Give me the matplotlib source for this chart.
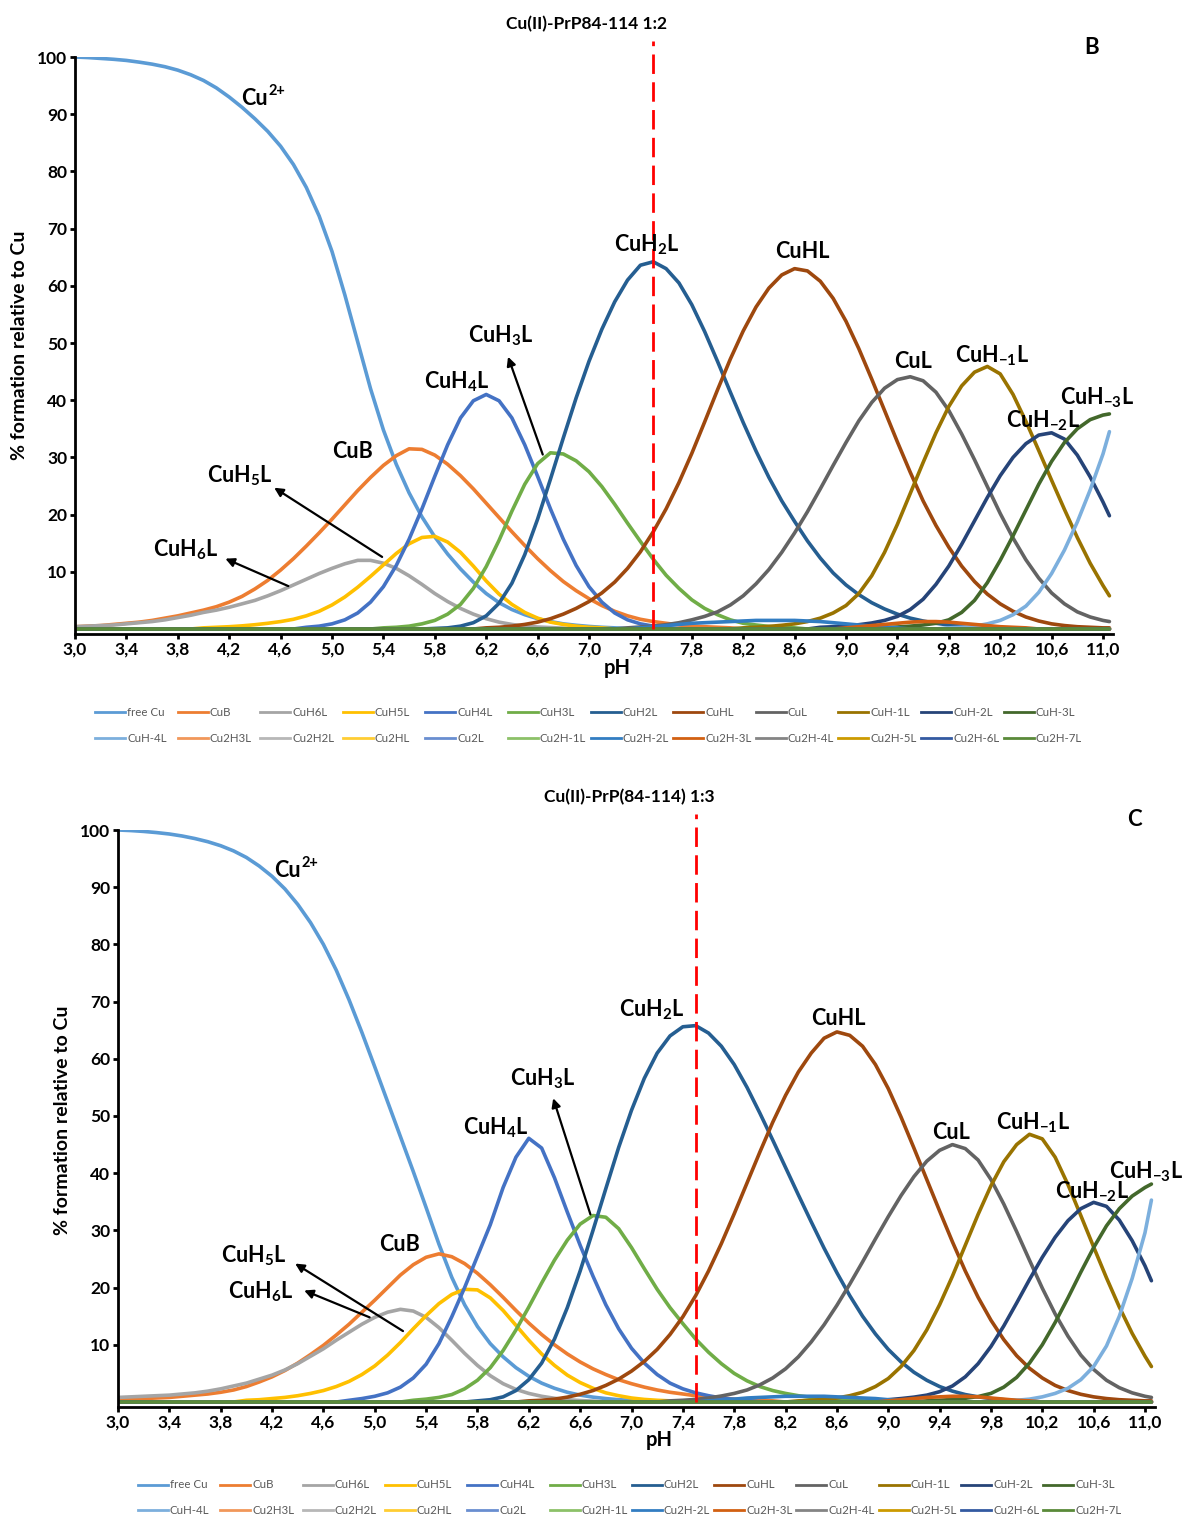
import matplotlib
matplotlib.use("Agg")
import matplotlib.pyplot as plt
from matplotlib.lines import Line2D

plt.rcParams['font.family'] = ['Lato', 'DejaVu Sans']
plt.rcParams['mathtext.fontset'] = 'custom'
plt.rcParams['mathtext.rm'] = 'Lato:bold'
plt.rcParams['mathtext.it'] = 'Lato:bold'
plt.rcParams['mathtext.bf'] = 'Lato:bold'
plt.rcParams['mathtext.sf'] = 'Lato:bold'

# pH grid shared by every species curve
PH = [round(3.0 + 0.1 * i, 1) for i in range(81)] + [11.05]


def _pad(start, vals):
    """Place values listed from `start` pH onto the full pH grid (zeros elsewhere)."""
    i0 = int(round((start - 3.0) * 10))
    out = [0.0] * len(PH)
    out[i0:i0 + len(vals)] = vals
    return out


SPECIES = ["free Cu", "CuB", "CuH6L", "CuH5L", "CuH4L", "CuH3L", "CuH2L", "CuHL",
           "CuL", "CuH-1L", "CuH-2L", "CuH-3L", "CuH-4L", "Cu2H3L", "Cu2H2L", "Cu2HL",
           "Cu2L", "Cu2H-1L", "Cu2H-2L", "Cu2H-3L", "Cu2H-4L", "Cu2H-5L", "Cu2H-6L", "Cu2H-7L"]
COLORS = ["#5B9BD5", "#ED7D31", "#A5A5A5", "#FFC000", "#4472C4", "#70AD47", "#255E91", "#9E480E",
          "#636363", "#997300", "#264478", "#43682B", "#7CAFDD", "#F1975A", "#B7B7B7", "#FFCD33",
          "#698ED0", "#8CC168", "#327DC2", "#D26012", "#848484", "#CC9A00", "#335AA1", "#5A8A39"]

ZERO = [0.0] * len(PH)

# ---------------- Cu(II)-PrP84-114 1:2 (panel B), % of total Cu ----------------
free_cu_b = _pad(3.0, [100, 99.9, 99.75, 99.6, 99.4, 99.1, 98.75, 98.3, 97.7, 96.9,
                       95.9, 94.6, 93.0, 91.2, 89.2, 87.0, 84.4, 81.2, 77.2, 72.2,
                       66.0, 58.4, 50.2, 42.0, 34.8, 28.8, 23.8, 19.6, 16.1, 13.1,
                       10.5, 8.2, 6.2, 4.6, 3.4, 2.5, 1.8, 1.3, 0.9, 0.65,
                       0.45, 0.3, 0.2, 0.1])
cub_b = _pad(3.0, [0.4, 0.5, 0.6, 0.8, 1.0, 1.2, 1.5, 1.9, 2.3, 2.8,
                   3.3, 3.9, 4.7, 5.7, 7.0, 8.5, 10.3, 12.3, 14.5, 16.8,
                   19.2, 21.7, 24.2, 26.5, 28.6, 30.3, 31.5, 31.4, 30.4, 28.8,
                   26.8, 24.5, 22.0, 19.5, 17.0, 14.6, 12.3, 10.2, 8.3, 6.7,
                   5.3, 4.1, 3.1, 2.3, 1.7, 1.3, 1.0, 0.7, 0.5, 0.4,
                   0.3, 0.2])
cuh6l_b = _pad(3.0, [0.4, 0.5, 0.6, 0.7, 0.9, 1.1, 1.3, 1.6, 2.0, 2.4,
                     2.9, 3.3, 3.8, 4.4, 5.0, 5.8, 6.7, 7.7, 8.7, 9.7,
                     10.6, 11.4, 12.0, 12.0, 11.5, 10.6, 9.3, 7.8, 6.2, 4.8,
                     3.6, 2.6, 1.8, 1.2, 0.8, 0.5, 0.35, 0.25, 0.15])
cuh5l_b = _pad(4.0, [0.2, 0.3, 0.4, 0.55, 0.75, 1.0, 1.3, 1.7, 2.3, 3.1,
                     4.2, 5.6, 7.3, 9.2, 11.2, 13.2, 14.9, 16.0, 16.2, 15.2,
                     13.4, 11.0, 8.4, 6.1, 4.3, 2.9, 1.9, 1.2, 0.8, 0.5,
                     0.3, 0.2])
cuh4l_b = _pad(4.8, [0.3, 0.5, 0.9, 1.6, 2.8, 4.7, 7.4, 11.1, 15.7, 21.0,
                     26.7, 32.2, 36.9, 39.9, 41.0, 39.9, 36.9, 32.2, 26.7, 21.0,
                     15.7, 11.1, 7.4, 4.7, 2.8, 1.6, 0.9, 0.5, 0.3])
cuh3l_b = _pad(5.4, [0.2, 0.3, 0.5, 0.9, 1.5, 2.6, 4.3, 7.1, 10.9, 15.5,
                     20.6, 25.3, 28.9, 30.8, 30.6, 29.4, 27.5, 24.9, 21.8, 18.5,
                     15.3, 12.2, 9.4, 7.1, 5.1, 3.6, 2.5, 1.6, 1.0, 0.7,
                     0.45, 0.3, 0.2])
cuh2l_b = _pad(5.8, [0.1, 0.2, 0.5, 1.1, 2.3, 4.5, 8.0, 13.0, 19.2, 26.2,
                     33.4, 40.4, 46.8, 52.4, 57.2, 61.0, 63.6, 64.2, 63.0, 60.5,
                     56.7, 52.0, 46.8, 41.4, 36.1, 31.1, 26.5, 22.4, 18.8, 15.4,
                     12.4, 9.8, 7.7, 6.0, 4.6, 3.5, 2.6, 1.9, 1.4, 1.0,
                     0.7, 0.5, 0.35, 0.25, 0.15])
cuhl_b = _pad(6.2, [0.2, 0.3, 0.5, 0.8, 1.2, 1.8, 2.6, 3.6, 4.8, 6.3,
                    8.2, 10.6, 13.5, 17.0, 21.0, 25.6, 30.7, 36.2, 41.8, 47.2,
                    52.1, 56.3, 59.6, 61.9, 63.0, 62.6, 60.8, 57.8, 53.8, 49.0,
                    43.7, 38.2, 32.7, 27.4, 22.4, 18.1, 14.3, 11.0, 8.3, 6.1,
                    4.4, 3.1, 2.1, 1.4, 0.9, 0.6, 0.4, 0.3, 0.2, 0.2])
cul_b = _pad(7.3, [0.2, 0.35, 0.5, 0.75, 1.1, 1.6, 2.2, 3.0, 4.2, 5.8,
                   7.9, 10.4, 13.4, 16.8, 20.5, 24.5, 28.6, 32.6, 36.4, 39.6,
                   42.1, 43.6, 44.1, 43.4, 41.4, 38.2, 34.1, 29.6, 24.9, 20.2,
                   15.9, 12.1, 8.9, 6.3, 4.4, 3.0, 2.1, 1.5, 1.3])
cuhm1l_b = _pad(8.2, [0.2, 0.3, 0.45, 0.65, 0.9, 1.3, 1.9, 2.8, 4.1, 6.2,
                      9.3, 13.4, 18.3, 23.7, 29.1, 34.3, 38.9, 42.5, 44.9, 45.9,
                      44.6, 41.0, 36.3, 31.2, 26.0, 20.9, 16.0, 11.5, 7.6, 5.8])
cuhm2l_b = _pad(8.8, [0.3, 0.4, 0.55, 0.75, 1.05, 1.5, 2.2, 3.4, 5.2, 7.8,
                      11.0, 14.8, 18.9, 23.0, 26.8, 30.0, 32.4, 33.9, 34.3, 33.2,
                      30.4, 26.6, 22.2, 19.8])
cuhm3l_b = _pad(9.2, [0.2, 0.25, 0.35, 0.5, 0.7, 1.0, 1.6, 2.9, 5.0, 8.1,
                      12.0, 16.3, 20.8, 25.3, 29.3, 32.6, 35.0, 36.6, 37.4, 37.6])
cuhm4l_b = _pad(9.8, [0.2, 0.3, 0.5, 0.9, 1.5, 2.5, 4.0, 6.4, 9.7, 13.8,
                      18.7, 24.3, 30.6, 34.5])
cu2hm2l_b = _pad(7.4, [0.2, 0.4, 0.6, 0.8, 1.0, 1.1, 1.2, 1.3, 1.4, 1.5,
                       1.5, 1.5, 1.5, 1.4, 1.3, 1.1, 0.9, 0.7, 0.5, 0.3, 0.2])
cu2hm3l_b = _pad(9.0, [0.2, 0.4, 0.6, 0.8, 1.0, 1.2, 1.3, 1.3, 1.2, 1.0,
                       0.8, 0.6, 0.4, 0.3, 0.2])

# ---------------- Cu(II)-PrP(84-114) 1:3 (panel C), % of total Cu ----------------
free_cu_c = _pad(3.0, [100, 99.9, 99.75, 99.55, 99.3, 98.95, 98.5, 97.95, 97.25, 96.35,
                       95.2, 93.7, 91.9, 89.7, 87.0, 83.8, 80.0, 75.5, 70.3, 64.6,
                       58.6, 52.5, 46.4, 40.3, 34.0, 27.6, 21.8, 17.0, 13.2, 10.2,
                       7.9, 6.0, 4.5, 3.3, 2.4, 1.7, 1.2, 0.85, 0.6, 0.4,
                       0.3, 0.2, 0.1])
cub_c = _pad(3.0, [0.4, 0.5, 0.6, 0.7, 0.8, 1.0, 1.2, 1.4, 1.7, 2.1,
                   2.7, 3.5, 4.4, 5.5, 6.8, 8.3, 9.9, 11.7, 13.6, 15.7,
                   17.8, 20.0, 22.2, 24.0, 25.3, 25.9, 25.4, 24.2, 22.5, 20.5,
                   18.3, 16.0, 13.8, 11.8, 10.0, 8.4, 7.0, 5.8, 4.8, 3.9,
                   3.2, 2.6, 2.1, 1.7, 1.4, 1.1, 0.9, 0.7, 0.5, 0.4,
                   0.3, 0.2])
cuh6l_c = _pad(3.0, [0.8, 0.9, 1.0, 1.1, 1.2, 1.4, 1.6, 1.9, 2.3, 2.8,
                     3.3, 4.0, 4.7, 5.6, 6.7, 8.0, 9.3, 10.8, 12.2, 13.6,
                     14.8, 15.7, 16.2, 15.9, 14.8, 13.0, 10.8, 8.5, 6.4, 4.6,
                     3.2, 2.2, 1.5, 1.0, 0.65, 0.4, 0.25, 0.15])
cuh5l_c = _pad(4.0, [0.3, 0.4, 0.6, 0.8, 1.1, 1.5, 2.0, 2.7, 3.6, 4.8,
                     6.3, 8.2, 10.4, 12.8, 15.1, 17.2, 18.8, 19.7, 19.6, 18.2,
                     16.0, 13.4, 10.8, 8.4, 6.4, 4.7, 3.4, 2.4, 1.6, 1.1,
                     0.7, 0.45, 0.3, 0.2])
cuh4l_c = _pad(4.8, [0.3, 0.6, 1.0, 1.6, 2.6, 4.2, 6.6, 10.2, 14.9, 20.0,
                     25.5, 31.0, 37.5, 42.8, 46.1, 44.4, 39.2, 33.2, 27.4, 22.0,
                     17.0, 12.8, 9.4, 6.8, 4.8, 3.3, 2.3, 1.6, 1.1, 0.7,
                     0.45, 0.3])
cuh3l_c = _pad(5.3, [0.3, 0.5, 0.8, 1.3, 2.3, 3.8, 6.0, 9.0, 12.6, 16.6,
                     20.8, 24.8, 28.3, 31.1, 32.6, 32.3, 30.3, 27.0, 23.3, 19.7,
                     16.5, 13.7, 11.0, 8.7, 6.7, 5.0, 3.7, 2.7, 2.0, 1.5,
                     1.1, 0.8, 0.5, 0.4, 0.3, 0.2])
cuh2l_c = _pad(5.8, [0.2, 0.4, 0.9, 2.0, 3.9, 6.8, 11.0, 16.5, 22.9, 30.0,
                     37.3, 44.5, 51.0, 56.6, 61.0, 64.0, 65.6, 65.8, 64.5, 62.2,
                     59.0, 55.0, 50.5, 45.8, 41.0, 36.2, 31.5, 26.9, 22.6, 18.6,
                     15.0, 11.9, 9.2, 7.0, 5.2, 3.8, 2.7, 1.9, 1.3, 0.9,
                     0.6, 0.4, 0.25, 0.15])
cuhl_c = _pad(6.2, [0.2, 0.3, 0.5, 0.85, 1.35, 2.0, 2.9, 4.0, 5.4, 7.1,
                    9.2, 11.8, 14.9, 18.6, 22.9, 27.7, 32.9, 38.3, 43.7, 48.9,
                    53.6, 57.7, 61.0, 63.6, 64.7, 64.1, 62.2, 59.0, 54.8, 49.8,
                    44.4, 38.9, 33.4, 28.0, 22.9, 18.3, 14.3, 10.9, 8.1, 5.9,
                    4.2, 2.9, 2.0, 1.35, 0.9, 0.6, 0.4, 0.3, 0.2, 0.2])
cul_c = _pad(7.3, [0.2, 0.3, 0.45, 0.7, 1.05, 1.5, 2.1, 3.0, 4.2, 5.8,
                   7.9, 10.5, 13.5, 16.9, 20.6, 24.5, 28.5, 32.4, 36.1, 39.4,
                   42.1, 44.0, 45.0, 44.3, 42.3, 38.9, 34.6, 29.8, 24.8, 19.9,
                   15.4, 11.5, 8.2, 5.7, 3.8, 2.5, 1.6, 1.0, 0.8])
cuhm1l_c = _pad(8.3, [0.2, 0.3, 0.45, 0.7, 1.1, 1.7, 2.7, 4.1, 6.2, 9.0,
                      12.6, 17.0, 22.0, 27.4, 32.8, 37.8, 42.0, 45.0, 46.8, 46.0,
                      42.8, 38.0, 32.6, 27.1, 21.7, 16.6, 12.0, 8.0, 6.2])
cuhm2l_c = _pad(9.0, [0.4, 0.6, 0.85, 1.2, 1.8, 2.8, 4.4, 6.7, 9.7, 13.3,
                      17.3, 21.4, 25.3, 28.8, 31.7, 33.8, 34.9, 34.2, 31.8, 28.2,
                      23.8, 21.2])
cuhm3l_c = _pad(9.3, [0.2, 0.3, 0.45, 0.65, 0.95, 1.5, 2.6, 4.3, 6.8, 10.0,
                      13.9, 18.2, 22.7, 27.0, 30.8, 33.8, 36.0, 37.5, 38.1])
cuhm4l_c = _pad(9.9, [0.2, 0.3, 0.5, 0.9, 1.5, 2.4, 3.9, 6.2, 9.8, 15.0,
                      21.6, 29.6, 35.3])
cu2hm2l_c = _pad(7.6, [0.2, 0.3, 0.5, 0.7, 0.8, 0.9, 1.0, 1.0, 1.0, 1.0,
                       0.9, 0.8, 0.7, 0.6, 0.4, 0.3, 0.2])
cu2hm3l_c = _pad(9.0, [0.2, 0.4, 0.6, 0.8, 0.9, 1.0, 1.0, 0.9, 0.7, 0.5,
                       0.3, 0.2])

SERIES_B = [free_cu_b, cub_b, cuh6l_b, cuh5l_b, cuh4l_b, cuh3l_b, cuh2l_b, cuhl_b,
            cul_b, cuhm1l_b, cuhm2l_b, cuhm3l_b, cuhm4l_b, ZERO, ZERO, ZERO,
            ZERO, ZERO, cu2hm2l_b, cu2hm3l_b, ZERO, ZERO, ZERO, ZERO]
SERIES_C = [free_cu_c, cub_c, cuh6l_c, cuh5l_c, cuh4l_c, cuh3l_c, cuh2l_c, cuhl_c,
            cul_c, cuhm1l_c, cuhm2l_c, cuhm3l_c, cuhm4l_c, ZERO, ZERO, ZERO,
            ZERO, ZERO, cu2hm2l_c, cu2hm3l_c, ZERO, ZERO, ZERO, ZERO]

X_TICKS = [round(3.0 + 0.4 * i, 1) for i in range(21)]
Y_TICKS = [10, 20, 30, 40, 50, 60, 70, 80, 90, 100]
PH_MARK = 7.5

# in-plot species labels: (text, pH, %)
LABELS_B = [("CuB", 5.16, 31.0), (r"CuH$_5$L", 4.28, 26.8),
            (r"CuH$_6$L", 3.86, 13.8), (r"CuH$_4$L", 5.97, 43.3), (r"CuH$_3$L", 6.31, 51.3),
            (r"CuH$_2$L", 7.45, 67.1), ("CuHL", 8.66, 66.0), ("CuL", 9.52, 46.8),
            (r"CuH$_{-1}$L", 10.14, 47.8), (r"CuH$_{-2}$L", 10.53, 36.4),
            (r"CuH$_{-3}$L", 10.95, 40.5)]
LABELS_C = [("CuB", 5.19, 27.6), (r"CuH$_5$L", 4.06, 25.5),
            (r"CuH$_6$L", 4.11, 19.2), (r"CuH$_4$L", 5.94, 47.9), (r"CuH$_3$L", 6.31, 56.5),
            (r"CuH$_2$L", 7.16, 68.5), ("CuHL", 8.61, 67.1), ("CuL", 9.49, 47.2),
            (r"CuH$_{-1}$L", 10.13, 48.8), (r"CuH$_{-2}$L", 10.59, 36.7),
            (r"CuH$_{-3}$L", 11.01, 40.2)]
# free-copper label position (pH, %)
CU_ION_B = (4.40, 92.8)
CU_ION_C = (4.32, 93.0)
# pointer arrows: (tail pH, tail %, head pH, head %)
ARROWS_B = [(6.64, 30.5, 6.37, 47.6), (5.39, 12.6, 4.55, 24.7), (4.66, 7.5, 4.17, 12.3)]
ARROWS_C = [(6.68, 32.8, 6.39, 53.1), (5.22, 12.4, 4.38, 24.2), (4.96, 14.8, 4.45, 19.5)]

W, H = 1183, 1518
fig = plt.figure(figsize=(W / 100, H / 100), dpi=100)


def fx(px):
    return px / W


def fy(py):
    return 1 - py / H


def panel(x0, x11, y100, y0, series, labels, cu_ion, arrows, title, title_xy, letter,
          letter_xy, ylab_xy, xlab_xy, leg_x0, leg_step, leg_y):
    ppu_x = (x11 - x0) / 8.0
    ppu_y = (y0 - y100) / 100.0
    xmin, xmax, ymin, ymax = 3.0, 11.08, -0.8, 100.0
    left = x0
    right = x0 + (xmax - xmin) * ppu_x
    top = y100
    bottom = y0 - ymin * ppu_y
    ax = fig.add_axes([fx(left), fy(bottom), fx(right - left), (bottom - top) / H])
    ax.set_xlim(xmin, xmax)
    ax.set_ylim(ymin, ymax)
    for name, col, vals in zip(SPECIES, COLORS, series):
        ax.plot(PH, vals, color=col, lw=2.6, solid_capstyle='round', solid_joinstyle='round',
                label=name, zorder=2)
    ax.plot([PH_MARK, PH_MARK], [0, 102.8], color='#FF0000', lw=2.0,
            dashes=(7, 3), clip_on=False, zorder=3)
    for s in ('top', 'right'):
        ax.spines[s].set_visible(False)
    for s in ('left', 'bottom'):
        ax.spines[s].set_linewidth(2.0)
        ax.spines[s].set_color('black')
    ax.set_xticks(X_TICKS)
    ax.set_xticklabels([f"{v:.1f}".replace('.', ',') for v in X_TICKS])
    ax.set_yticks(Y_TICKS)
    ax.set_yticklabels([str(v) for v in Y_TICKS])
    ax.tick_params(direction='out', length=3.5, width=2.0, labelsize=12.5, pad=2)
    for lab in ax.get_xticklabels() + ax.get_yticklabels():
        lab.set_fontweight('bold')
    for txt, xv, yv in labels:
        ax.text(xv, yv, txt, ha='center', va='center', fontsize=15.5, fontweight='bold',
                zorder=5)
    ax.text(cu_ion[0], cu_ion[1], "Cu", ha='center', va='center', fontsize=15.5,
            fontweight='bold', zorder=5)
    ax.annotate("2+", xy=cu_ion, xytext=(10, 5), textcoords='offset points', ha='left',
                va='center', fontsize=10.5, fontweight='bold', zorder=5)
    for tx, ty, hx, hy in arrows:
        ax.annotate('', xy=(hx, hy), xytext=(tx, ty),
                    arrowprops=dict(arrowstyle='-|>', color='black', lw=1.6,
                                    mutation_scale=13, shrinkA=0, shrinkB=0), zorder=6)
    fig.text(fx(title_xy[0]), fy(title_xy[1]), title, ha='center', va='center',
             fontsize=12.5, fontweight='bold')
    fig.text(fx(letter_xy[0]), fy(letter_xy[1]), letter, ha='center', va='center',
             fontsize=16, fontweight='bold')
    fig.text(fx(ylab_xy[0]), fy(ylab_xy[1]), "% formation relative to Cu", ha='center',
             va='center', rotation=90, fontsize=14, fontweight='bold')
    fig.text(fx(xlab_xy[0]), fy(xlab_xy[1]), "pH", ha='center', va='center',
             fontsize=14.5, fontweight='bold')
    # two-row legend, twelve evenly spaced columns
    for k, (name, col) in enumerate(zip(SPECIES, COLORS)):
        row, colidx = divmod(k, 12)
        lx = leg_x0 + colidx * leg_step
        ly = leg_y[row]
        fig.add_artist(Line2D([fx(lx), fx(lx + 30)], [fy(ly), fy(ly)], color=col, lw=2.0,
                              transform=fig.transFigure))
        fig.text(fx(lx + 32), fy(ly), name, ha='left', va='center', fontsize=8.3,
                 color='#595959')
    return ax


panel(75, 1103, 57, 629, SERIES_B, LABELS_B, CU_ION_B, ARROWS_B, "Cu(II)-PrP84-114 1:2",
      (586, 24), "B", (1092, 47), (20, 345), (617, 668), 95, 82.6, (712, 738))
panel(118, 1145, 830, 1402, SERIES_C, LABELS_C, CU_ION_C, ARROWS_C, "Cu(II)-PrP(84-114) 1:3",
      (629, 797), "C", (1134, 820), (63, 1120), (659, 1440), 138, 82.3, (1485, 1510))

fig.savefig("out.png", dpi=100, facecolor='white')
